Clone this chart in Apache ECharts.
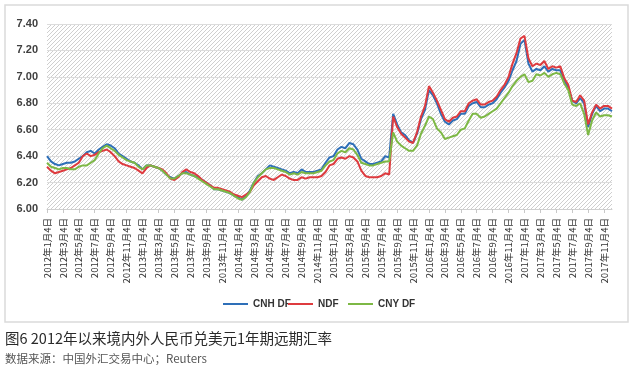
<!DOCTYPE html>
<html>
<head>
<meta charset="utf-8">
<script src="https://cdn.jsdelivr.net/npm/echarts@6/dist/echarts.min.js"></script>
<style>
html,body{margin:0;padding:0;background:#fff;}
#c{width:634px;height:371px;}
</style>
</head>
<body>
<div id="c"></div>
<script>
// Semi-monthly observation dates (4th and 19th of each month)
var years = [2012, 2013, 2014, 2015, 2016, 2017];
var categories = [];
years.forEach(function (y) {
  for (var m = 1; m <= 12; m++) {
    if (y === 2017 && m === 12) { categories.push(y + '年12月4日'); break; }
    categories.push(y + '年' + m + '月4日');
    categories.push(y + '年' + m + '月19日');
  }
});

var yTicks = [6.00, 6.20, 6.40, 6.60, 6.80, 7.00, 7.20, 7.40];

var cnhDF = [
  6.40,6.36,6.34,6.33,6.34,6.35,6.35,6.36,6.38,6.40,6.43,6.44,6.42,6.45,6.47,6.49,6.48,6.46,6.42,6.40,6.38,6.36,6.35,6.33,
  6.30,6.33,6.33,6.32,6.31,6.29,6.26,6.24,6.23,6.25,6.27,6.28,6.26,6.25,6.24,6.22,6.20,6.18,6.15,6.15,6.14,6.13,6.12,6.10,
  6.09,6.07,6.10,6.14,6.20,6.25,6.27,6.30,6.33,6.32,6.31,6.30,6.29,6.27,6.28,6.27,6.30,6.28,6.28,6.28,6.29,6.30,6.35,6.39,
  6.40,6.45,6.47,6.46,6.50,6.49,6.45,6.38,6.36,6.34,6.34,6.35,6.36,6.40,6.39,6.72,6.64,6.58,6.56,6.52,6.50,6.57,6.68,6.75,
  6.90,6.86,6.80,6.72,6.66,6.64,6.67,6.68,6.72,6.72,6.78,6.80,6.81,6.77,6.77,6.79,6.80,6.83,6.88,6.92,6.97,7.05,7.12,7.25,
  7.28,7.10,7.04,7.06,7.05,7.08,7.04,7.06,7.05,7.05,6.97,6.92,6.82,6.80,6.84,6.80,6.62,6.72,6.78,6.74,6.76,6.76,6.74
];
var ndf = [
  6.32,6.29,6.27,6.28,6.29,6.30,6.31,6.33,6.35,6.40,6.42,6.40,6.41,6.43,6.44,6.45,6.43,6.40,6.36,6.34,6.33,6.32,6.31,6.29,
  6.27,6.31,6.33,6.32,6.31,6.30,6.27,6.23,6.22,6.24,6.28,6.30,6.28,6.27,6.25,6.22,6.20,6.18,6.16,6.16,6.15,6.14,6.13,6.11,
  6.10,6.09,6.11,6.13,6.18,6.21,6.24,6.25,6.23,6.22,6.24,6.26,6.25,6.23,6.22,6.22,6.24,6.23,6.24,6.24,6.24,6.25,6.28,6.33,
  6.34,6.38,6.39,6.38,6.40,6.39,6.36,6.29,6.25,6.24,6.24,6.24,6.25,6.27,6.26,6.70,6.62,6.57,6.54,6.51,6.50,6.58,6.70,6.78,
  6.93,6.88,6.82,6.75,6.68,6.66,6.69,6.70,6.74,6.74,6.80,6.82,6.83,6.79,6.79,6.81,6.82,6.85,6.90,6.94,7.00,7.10,7.18,7.29,
  7.31,7.14,7.08,7.10,7.09,7.12,7.06,7.08,7.07,7.08,6.99,6.94,6.82,6.81,6.86,6.82,6.64,6.73,6.79,6.76,6.78,6.78,6.76
];
var cnyDF = [
  6.35,6.32,6.31,6.30,6.31,6.31,6.30,6.30,6.32,6.33,6.33,6.35,6.37,6.42,6.46,6.48,6.46,6.44,6.41,6.39,6.37,6.36,6.35,6.32,
  6.30,6.33,6.33,6.32,6.31,6.29,6.26,6.23,6.23,6.25,6.27,6.27,6.26,6.25,6.23,6.21,6.19,6.17,6.15,6.15,6.14,6.13,6.12,6.10,
  6.08,6.07,6.09,6.13,6.20,6.24,6.27,6.30,6.31,6.31,6.30,6.29,6.28,6.26,6.27,6.26,6.28,6.27,6.27,6.27,6.28,6.29,6.33,6.36,
  6.37,6.42,6.44,6.43,6.46,6.45,6.41,6.35,6.34,6.33,6.33,6.34,6.35,6.36,6.36,6.58,6.51,6.48,6.46,6.44,6.44,6.48,6.57,6.63,
  6.70,6.68,6.61,6.58,6.53,6.54,6.55,6.56,6.60,6.61,6.67,6.72,6.72,6.69,6.70,6.72,6.74,6.76,6.80,6.84,6.88,6.93,6.97,7.00,
  7.02,6.96,6.97,7.02,7.01,7.03,7.00,7.02,7.03,7.02,6.95,6.90,6.79,6.78,6.80,6.72,6.56,6.67,6.73,6.70,6.71,6.71,6.70
];

// hatch pattern for plot background
var pc = document.createElement('canvas');
pc.width = 4; pc.height = 4;
var ctx = pc.getContext('2d');
ctx.strokeStyle = '#cfcfcf';
ctx.lineWidth = 1;
ctx.beginPath();
ctx.moveTo(-1, 5); ctx.lineTo(5, -1);
ctx.moveTo(-1, 1); ctx.lineTo(1, -1);
ctx.moveTo(3, 5); ctx.lineTo(5, 3);
ctx.stroke();

var chart = echarts.init(document.getElementById('c'), null, {renderer: 'canvas'});
var legendText = {fontSize: 10, color: '#333', fontFamily: 'Liberation Sans', fontWeight: 'bold'};
function lg(name, left) {
  return {data: [name], left: left, top: 299, icon: 'rect', itemWidth: 25, itemHeight: 2,
    textStyle: legendText, padding: 0, selectedMode: false};
}
chart.setOption({
  animation: false,
  backgroundColor: '#fff',
  graphic: [
    {type: 'rect', shape: {x: 5, y: 5, width: 623, height: 317}, style: {fill: 'none', stroke: '#dadada', lineWidth: 1.5}, z: -1},
    {type: 'text', left: 5, top: 331, style: {text: '图6 2012年以来境内外人民币兑美元1年期远期汇率', fontSize: 14.5, fill: '#2a2a2a', fontFamily: 'Noto Sans CJK SC'}},
    {type: 'text', left: 5, top: 353, style: {text: '数据来源：中国外汇交易中心；Reuters', fontSize: 11.5, fill: '#555', fontFamily: 'Noto Sans CJK SC'}}
  ],
  legend: [lg('CNH DF', 223), lg('NDF', 288), lg('CNY DF', 348)],
  grid: {left: 47, right: 22, top: 24, bottom: 162, show: true, borderWidth: 0,
    backgroundColor: {image: pc, repeat: 'repeat'}},
  xAxis: {
    type: 'category', data: categories, boundaryGap: false,
    axisLine: {lineStyle: {color: '#d0d0d0'}},
    axisTick: {interval: 3, length: 4, lineStyle: {color: '#c8c8c8'}},
    axisLabel: {interval: 3, rotate: 90, fontSize: 9.5, color: '#333', margin: 9, fontFamily: 'Noto Sans CJK SC'},
    splitLine: {show: false}
  },
  yAxis: {
    type: 'value', min: 6.0, max: 7.4, interval: 0.2,
    axisLine: {show: false}, axisTick: {show: false},
    axisLabel: {fontSize: 11, color: '#404040', fontWeight: 'bold', margin: 9, fontFamily: 'Liberation Sans',
      formatter: function (v) { return v.toFixed(2); }},
    splitLine: {lineStyle: {color: '#dcdcdc', width: 1}}
  },
  series: [
    {name: 'CNH DF', type: 'line', data: cnhDF, symbol: 'none', lineStyle: {width: 2, color: '#2e6fb8'}, itemStyle: {color: '#2e6fb8'}},
    {name: 'NDF', type: 'line', data: ndf, symbol: 'none', lineStyle: {width: 2, color: '#de3b3f'}, itemStyle: {color: '#de3b3f'}},
    {name: 'CNY DF', type: 'line', data: cnyDF, symbol: 'none', lineStyle: {width: 2, color: '#7db845'}, itemStyle: {color: '#7db845'}}
  ]
});
</script>
</body>
</html>
